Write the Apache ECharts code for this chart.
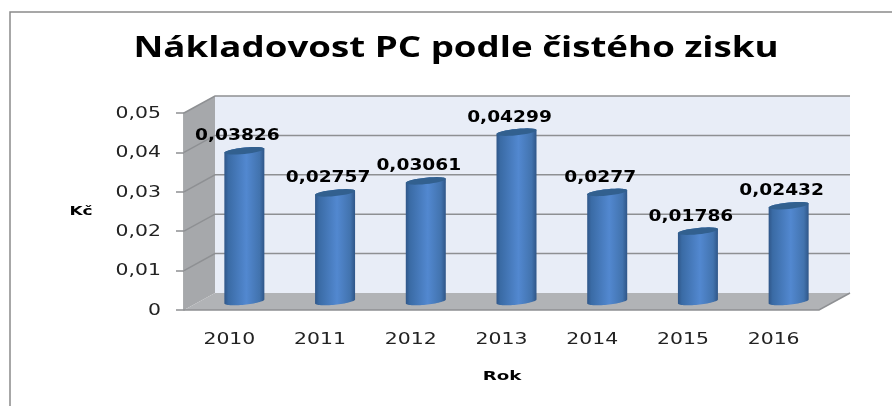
<!DOCTYPE html>
<html>
<head>
<meta charset="utf-8">
<style>
  html, body { margin: 0; background: #fff; }
  #chart { width: 892px; height: 406px; }
</style>
<script src="https://cdn.jsdelivr.net/npm/echarts@6/dist/echarts.min.js"></script>
</head>
<body>
<div id="chart"></div>
<script>
const years = ['2010', '2011', '2012', '2013', '2014', '2015', '2016']
const costs = [0.03826, 0.02757, 0.03061, 0.04299, 0.0277, 0.01786, 0.02432]
const costLabels = ['0,03826', '0,02757', '0,03061', '0,04299', '0,0277', '0,01786', '0,02432']
const gridValues = [0, 0.01, 0.02, 0.03, 0.04, 0.05]
const gridLabels = ['0', '0,01', '0,02', '0,03', '0,04', '0,05']

// depth of the fake 3D box
const depthX = 31
const depthY = -17
// the original picture is stretched sideways, so the text is too
const tickScale = 1.36
const labelScale = 1.24

function ellipsePoints(cx, cy, rx, ry, tilt, from, to) {
  const pts = []
  for (let i = 0; i <= 32; i++) {
    const t = from + (to - from) * i / 32
    pts.push([
      cx + rx * Math.cos(t),
      cy + ry * Math.sin(t) - tilt * Math.cos(t),
    ])
  }
  return pts
}

function stretchedText(x, y, text, font, fill, scaleX, align) {
  return {
    type: 'text',
    x,
    y,
    scaleX,
    style: { x: 0, y: 0, text, font, fill, align: align || 'center', verticalAlign: 'middle' },
  }
}

function renderBox(params, api) {
  const cs = params.coordSys
  const x0 = cs.x
  const x1 = cs.x + cs.width
  const y0 = api.coord([0, 0])[1]
  const yTop = api.coord([0, 0.05])[1]
  const lineStyle = { stroke: '#8e9093', lineWidth: 1.5, fill: null }
  const tickFont = '15px "DejaVu Sans"'
  const children = [
    // back wall
    { type: 'rect', shape: { x: x0 + depthX, y: yTop + depthY, width: cs.width, height: y0 - yTop },
      style: { fill: '#e8edf7' } },
    // side wall
    { type: 'polygon', shape: { points: [[x0, y0], [x0 + depthX, y0 + depthY], [x0 + depthX, yTop + depthY], [x0, yTop]] },
      style: { fill: '#a6a8ab' } },
    // floor
    { type: 'polygon', shape: { points: [[x0, y0], [x0 + depthX, y0 + depthY], [x1 + depthX, y0 + depthY], [x1, y0]] },
      style: { fill: '#b1b3b6' } },
  ]
  gridValues.slice(1).forEach(v => {
    const y = api.coord([0, v])[1]
    children.push({
      type: 'polyline',
      shape: { points: [[x0, y], [x0 + depthX, y + depthY], [x1 + depthX, y + depthY]] },
      style: lineStyle,
    })
  })
  children.push({
    type: 'polyline',
    shape: { points: [[x0, y0], [x1, y0], [x1 + depthX, y0 + depthY]] },
    style: lineStyle,
  })
  gridValues.forEach((v, i) => {
    const y = api.coord([0, v])[1]
    children.push(stretchedText(x0 - 23, y + 1, gridLabels[i], tickFont, '#222', tickScale, 'right'))
  })
  years.forEach((year, i) => {
    children.push(stretchedText(api.coord([i, 0])[0], y0 + 30, year, tickFont, '#222', tickScale))
  })
  return { type: 'group', children }
}

function renderCylinder(params, api) {
  const i = api.value(0)
  const base = api.coord([i, 0])
  const top = api.coord([i, api.value(1)])
  const cx = base[0] + 15
  const rx = 20
  const ry = 3.2
  const tilt = 2
  const yb = base[1] + depthY / 2
  const yt = top[1] + depthY / 2
  const body = ellipsePoints(cx, yt, rx, ry, tilt, Math.PI, 2 * Math.PI)
    .concat(ellipsePoints(cx, yb, rx, ry, tilt, 0, Math.PI))
  return {
    type: 'group',
    children: [
      {
        type: 'polygon',
        shape: { points: body },
        style: {
          fill: new echarts.graphic.LinearGradient(0, 0, 1, 0, [
            { offset: 0, color: '#2f5688' },
            { offset: 0.1, color: '#3a6ba5' },
            { offset: 0.55, color: '#5288d0' },
            { offset: 0.88, color: '#4273ae' },
            { offset: 1, color: '#2f5688' },
          ]),
        },
      },
      {
        type: 'polygon',
        shape: { points: ellipsePoints(cx, yt, rx, ry, tilt, 0, 2 * Math.PI) },
        style: { fill: '#32608f' },
      },
      stretchedText(base[0] + 8, top[1] - 23, costLabels[i], 'bold 15px "DejaVu Sans"', '#000', labelScale),
    ],
  }
}

const chart = echarts.init(document.getElementById('chart'))
chart.setOption({
  animation: false,
  backgroundColor: '#fff',
  graphic: [
    {
      type: 'rect',
      shape: { x: 10, y: 12, width: 900, height: 420 },
      style: { fill: null, stroke: '#8b8b8b', lineWidth: 1.5 },
      silent: true,
    },
    {
      type: 'text',
      x: 456,
      y: 49,
      scaleX: 1.31,
      style: {
        x: 0, y: 0,
        text: 'Nákladovost PC podle čistého zisku',
        font: 'bold 28px "Open Sans"',
        fill: '#000',
        align: 'center',
        verticalAlign: 'middle',
      },
    },
    {
      type: 'text',
      x: 81,
      y: 212,
      scaleX: 1.3,
      style: { x: 0, y: 0, text: 'Kč', font: 'bold 13px "DejaVu Sans"', fill: '#000', align: 'center', verticalAlign: 'middle' },
    },
    {
      type: 'text',
      x: 502,
      y: 377,
      scaleX: 1.4,
      style: { x: 0, y: 0, text: 'Rok', font: 'bold 13px "DejaVu Sans"', fill: '#000', align: 'center', verticalAlign: 'middle' },
    },
  ],
  grid: { left: 184, right: 73, top: 113, bottom: 96 },
  xAxis: {
    type: 'category',
    data: years,
    axisLine: { show: false },
    axisTick: { length: 5, lineStyle: { color: '#8e9093', width: 1.5 } },
    axisLabel: { show: false },
  },
  yAxis: {
    type: 'value',
    min: 0,
    max: 0.05,
    interval: 0.01,
    axisLine: { show: true, lineStyle: { color: '#8e9093', width: 1.5 } },
    axisTick: { show: true, length: 8, lineStyle: { color: '#8e9093', width: 1.5 } },
    splitLine: { show: false },
    axisLabel: { show: false },
  },
  series: [
    { type: 'custom', renderItem: renderBox, data: [0], clip: false, silent: true, z: 1 },
    {
      type: 'custom',
      renderItem: renderCylinder,
      data: costs.map((v, i) => [i, v]),
      encode: { x: 0, y: 1 },
      clip: false,
      z: 2,
    },
  ],
})
</script>
</body>
</html>
